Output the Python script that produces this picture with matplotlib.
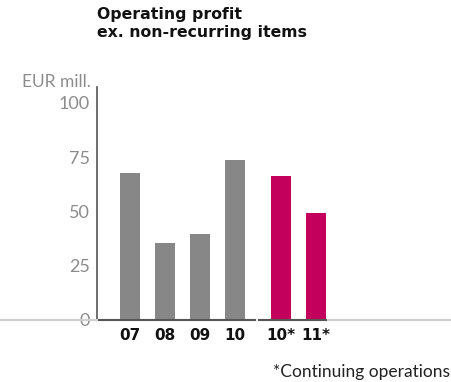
import matplotlib
matplotlib.use("Agg")
import matplotlib.pyplot as plt
from matplotlib.lines import Line2D

# 数据
years = ["07", "08", "09", "10", "10*", "11*"]
profit = [67.5, 35.5, 39.5, 73.5, 66.5, 49.5]
positions = [0, 1, 2, 3, 4.314, 5.314]
bar_colors = ["#878787"] * 4 + ["#c3005b"] * 2
yticks = [0, 25, 50, 75, 100]

W, H = 452, 382
fig = plt.figure(figsize=(W / 100, H / 100), dpi=100)

# 坐标轴位置（按像素换算）
left, right, bottom, top = 97, 452, 320, 87
ax = fig.add_axes([left / W, 1 - bottom / H, (right - left) / W, (bottom - top) / H])

ax.bar(positions, profit, width=0.571, color=bar_colors, zorder=2)
ax.set_xlim(-0.943, -0.943 + (right - left) / 35)
ax.set_ylim(0, 107.3)

for s in ["top", "right", "bottom"]:
    ax.spines[s].set_visible(False)
ax.spines["left"].set_color("#555555")
ax.spines["left"].set_linewidth(1.2)

ax.set_yticks(yticks)
ax.set_yticklabels([str(v) for v in yticks], color="#8c8c8c", fontsize=13,
                   family="Lato")
ax.set_xticks(positions)
ax.set_xticklabels(years, fontsize=11, fontweight="bold", color="#111111")
ax.tick_params(axis="both", length=0)
ax.tick_params(axis="y", pad=5)
ax.tick_params(axis="x", pad=6)

# 底部基线
fig.add_artist(Line2D([0, left / W], [1 - 320 / H] * 2, color="#d0d0d0", lw=1.5))
fig.add_artist(Line2D([328 / W, 1], [1 - 320 / H] * 2, color="#d0d0d0", lw=1.5))
ax.plot([-0.943, 3.571], [0, 0], color="#555555", lw=1.5, clip_on=False, zorder=3)
ax.plot([3.686, 5.657], [0, 0], color="#555555", lw=1.5, clip_on=False, zorder=3)

fig.text(97 / W, 1 - 7 / H, "Operating profit\nex. non-recurring items",
         ha="left", va="top", fontsize=11.3, fontweight="bold", color="#111111",
         linespacing=1.25)
fig.text(91 / W, 1 - 82 / H, "EUR mill.", ha="right", va="center",
         fontsize=12.5, color="#8c8c8c", family="Lato")
fig.text(450 / W, 1 - 372 / H, "*Continuing operations", ha="right", va="center",
         fontsize=12.5, color="#222222", family="Lato")

fig.savefig("out.png", dpi=100)
